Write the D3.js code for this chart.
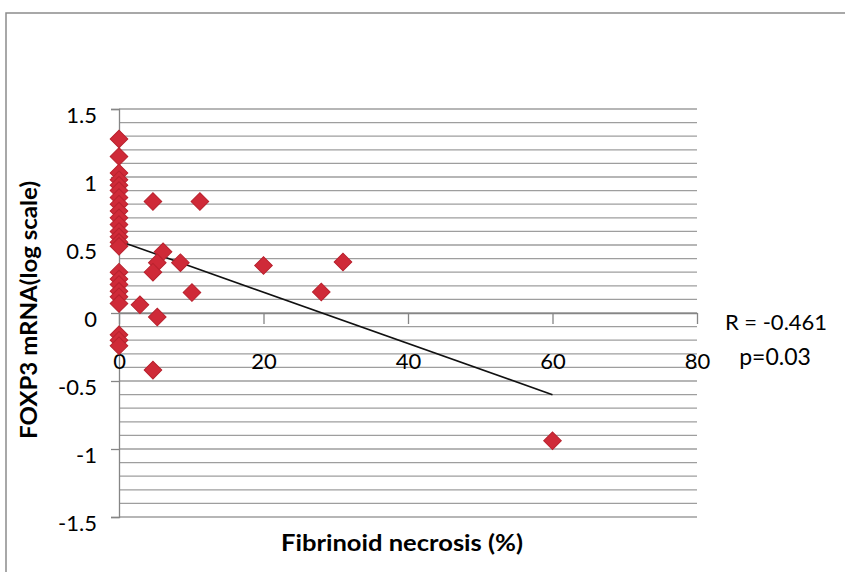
<!DOCTYPE html>
<html>
<head>
<meta charset="utf-8">
<script src="https://cdn.jsdelivr.net/npm/d3@7/dist/d3.min.js"></script>
<style>
  html, body { margin: 0; padding: 0; background: #fff; }
  svg { display: block; }
  text { font-family: Lato, "Open Sans", sans-serif; fill: #000; }
</style>
</head>
<body>
<svg id="chart" width="845" height="572"></svg>
<script>
// Fibrinoid necrosis (%) vs FOXP3 mRNA (log scale)
const necrosis = [
  0, 0, 0, 0, 0, 0, 0, 0, 0, 0, 0, 0, 0, 0, 0,
  0, 0, 0, 0, 0, 0,
  0, 0, 0,
  4.7, 11.2, 20, 28, 31, 8.5, 6.1, 5.3, 4.7, 10.1, 2.9, 5.3, 4.7, 60
];
const foxp3 = [
  1.28, 1.15, 1.03, 0.98, 0.94, 0.90, 0.85, 0.80, 0.75, 0.70, 0.65, 0.60, 0.56, 0.52, 0.49,
  0.30, 0.25, 0.21, 0.16, 0.12, 0.07,
  -0.16, -0.20, -0.24,
  0.82, 0.82, 0.35, 0.155, 0.375, 0.37, 0.45, 0.37, 0.30, 0.15, 0.06, -0.03, -0.42, -0.94
];

const xTicks = [0, 20, 40, 60, 80];
const yTicks = [-1.5, -1, -0.5, 0, 0.5, 1, 1.5];
const yGrid = d3.range(-15, 16).map(i => i / 10);

// Linear trend line (intercept, slope) over the observed range 0–60 %
const trendIntercept = 0.53;
const trendSlope = -0.01885;
const trendRange = [0, 60];

const statLines = ["R = -0.461", "p=0.03"];

const svg = d3.select("#chart");

const x = d3.scaleLinear().domain([0, 80]).range([119, 697]);
const y = d3.scaleLinear().domain([-1.5, 1.5]).range([517, 109]);

// plain hyphen-minus labels
const fmt = d => String(d);

// outer frame
svg.append("path")
  .attr("d", "M6,572 V13 H845")
  .attr("fill", "none")
  .attr("stroke", "#8c8c8c")
  .attr("stroke-width", 1.5);

// horizontal gridlines every 0.1
svg.append("g")
  .selectAll("line")
  .data(yGrid)
  .join("line")
  .attr("x1", x(0)).attr("x2", x(80))
  .attr("y1", d => y(d)).attr("y2", d => y(d))
  .attr("stroke", "#9e9e9e")
  .attr("stroke-width", 1.3);

// y axis
const yAxis = svg.append("g")
  .attr("transform", `translate(${x(0)},0)`)
  .call(d3.axisLeft(y).tickValues(yTicks).tickSize(8).tickPadding(14).tickFormat(fmt));
yAxis.select(".domain").attr("stroke", "#868686").attr("stroke-width", 1.3);
yAxis.selectAll(".tick line").attr("stroke", "#868686").attr("stroke-width", 1.3);
yAxis.selectAll(".tick text")
  .attr("font-size", 22)
  .attr("font-family", "Lato, sans-serif")
  .attr("fill", "#000")
  .attr("dy", "0.6em");

// x axis crossing at y = 0
const xAxis = svg.append("g")
  .attr("transform", `translate(0,${y(0)})`)
  .call(d3.axisBottom(x).tickValues(xTicks).tickSize(11).tickPadding(29)
    .tickSizeOuter(0).tickFormat(fmt));
xAxis.select(".domain").attr("stroke", "#868686").attr("stroke-width", 1.3);
xAxis.selectAll(".tick line").attr("stroke", "#868686").attr("stroke-width", 1.3);
xAxis.selectAll(".tick text")
  .attr("font-size", 22)
  .attr("font-family", "Lato, sans-serif")
  .attr("fill", "#000");

// trend line
svg.append("line")
  .attr("x1", x(trendRange[0]))
  .attr("y1", y(trendIntercept + trendSlope * trendRange[0]))
  .attr("x2", x(trendRange[1]))
  .attr("y2", y(trendIntercept + trendSlope * trendRange[1]))
  .attr("stroke", "#111")
  .attr("stroke-width", 1.6);

// data markers (diamonds)
const diamond = d3.symbol().type(d3.symbolSquare).size(155);
svg.append("g")
  .selectAll("path")
  .data(necrosis.map((v, i) => [v, foxp3[i]]))
  .join("path")
  .attr("d", diamond)
  .attr("transform", d => `translate(${x(d[0])},${y(d[1])}) rotate(45)`)
  .attr("fill", "#cf2a38")
  .attr("stroke", "#b8222e")
  .attr("stroke-width", 1);

// axis titles
svg.append("text")
  .attr("transform", "translate(37,310) rotate(-90)")
  .attr("text-anchor", "middle")
  .attr("font-size", 22)
  .attr("font-weight", "bold")
  .attr("textLength", 258)
  .attr("lengthAdjust", "spacingAndGlyphs")
  .text("FOXP3 mRNA(log scale)");

svg.append("text")
  .attr("x", 402).attr("y", 551)
  .attr("text-anchor", "middle")
  .attr("font-size", 23)
  .attr("font-weight", "bold")
  .attr("textLength", 242)
  .attr("lengthAdjust", "spacingAndGlyphs")
  .text("Fibrinoid necrosis (%)");

// correlation annotation
svg.append("text")
  .attr("x", 776).attr("y", 330)
  .attr("text-anchor", "middle")
  .attr("font-size", 22)
  .text(statLines[0]);
svg.append("text")
  .attr("x", 775).attr("y", 365)
  .attr("text-anchor", "middle")
  .attr("font-size", 23)
  .text(statLines[1]);
</script>
</body>
</html>
